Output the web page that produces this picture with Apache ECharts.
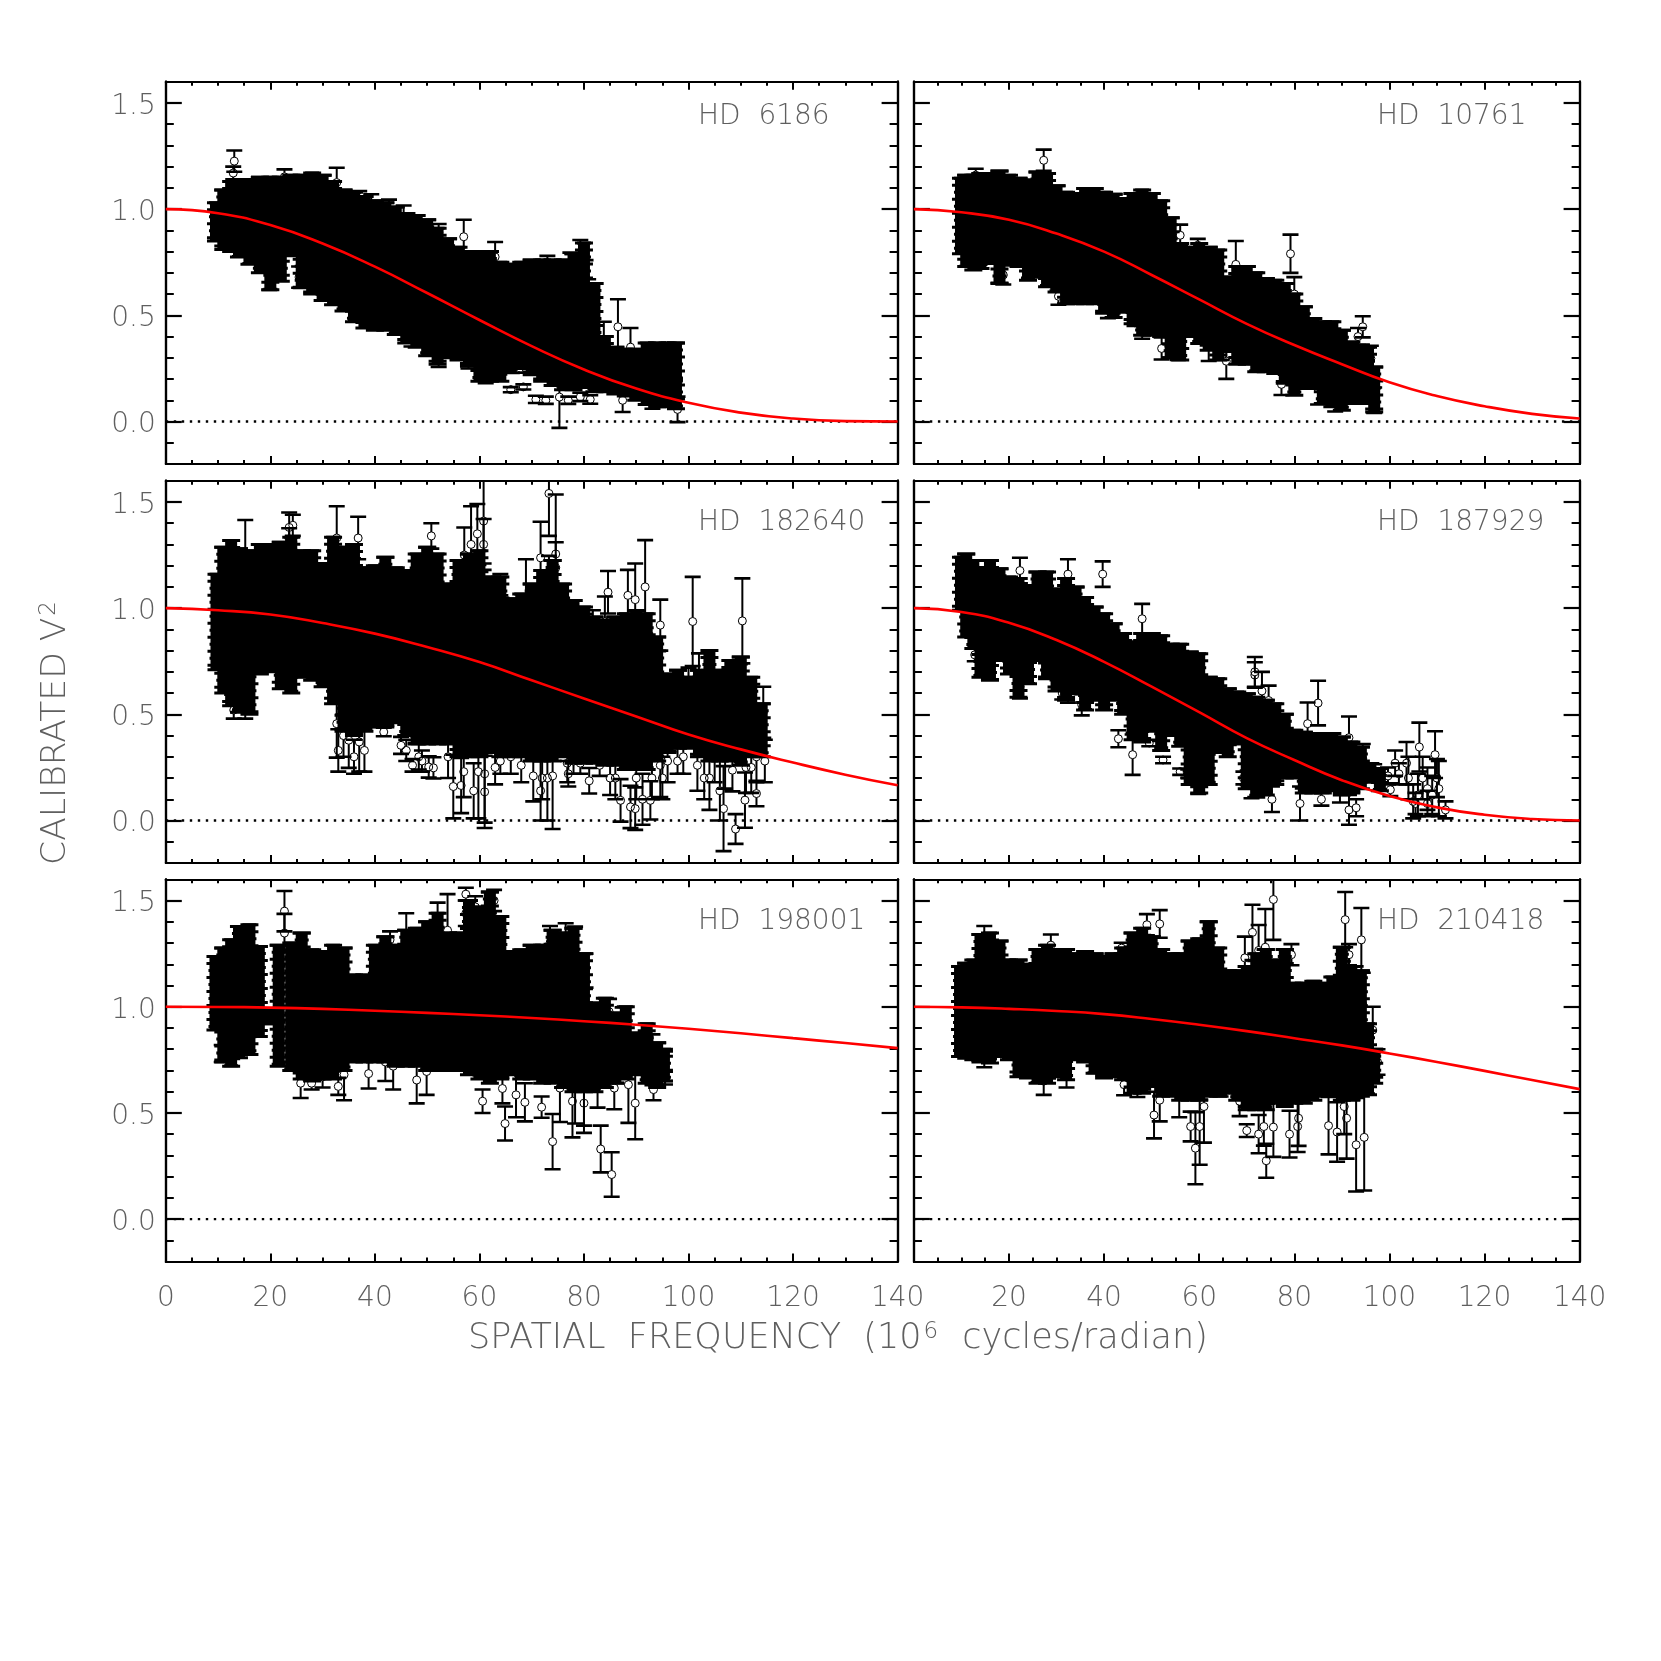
<!DOCTYPE html>
<html><head><meta charset="utf-8"><style>html,body{margin:0;background:#fff}#c{width:1661px;height:1661px}</style>
<script src="https://cdn.jsdelivr.net/npm/echarts@6/dist/echarts.min.js"></script></head>
<body><div id="c"></div>
<script>
const names = ['HD  6186','HD  10761','HD  182640','HD  187929','HD  198001','HD  210418'];
const xTicks = [0,20,40,60,80,100,120,140];
const yMajor = [0,0.5,1,1.5];
const fitX = [0,10,20,30,40,50,60,70,80,90,100,110,120,130,140];
const fit1 = [1,.981,.925,.838,.729,.605,.478,.355,.245,.155,.088,.042,.014,.002,0];
const fit2 = [1,.985,.95,.885,.80,.69,.575,.46,.36,.27,.185,.12,.072,.036,.014];
const fit3 = [1,.99,.97,.93,.88,.817,.746,.66,.575,.49,.405,.335,.273,.216,.166];
const fit4 = [1,.982,.931,.85,.747,.63,.51,.388,.285,.19,.115,.062,.027,.007,0];
const fit5 = [1,.999,.996,.99,.981,.971,.96,.947,.932,.915,.896,.875,.852,.829,.805];
const fit6 = [1,.997,.99,.98,.965,.942,.915,.885,.852,.818,.78,.74,.698,.655,.612];

const band1X = [9.6,11,12.5,14,16,18,20,22,24,26,28,30,32,34,36,38,40,42,44,46,48,50,52,54,56,58,60,62,64,66,68,70,72,74,76,78,80,82,84,86,88,90,92,94,96,97.6];
const band1Low = [.85,.81,.80,.775,.74,.70,.62,.66,.78,.63,.60,.57,.55,.52,.47,.44,.43,.43,.41,.37,.35,.31,.27,.30,.29,.26,.19,.19,.19,.23,.25,.22,.19,.17,.15,.15,.16,.14,.14,.13,.12,.10,.08,.07,.07,.06];
const band1High = [1.03,1.09,1.13,1.14,1.14,1.15,1.15,1.15,1.16,1.16,1.17,1.16,1.13,1.09,1.08,1.06,1.04,1.03,1.01,.98,.97,.95,.91,.86,.82,.80,.80,.80,.75,.74,.75,.76,.76,.76,.76,.79,.84,.65,.40,.35,.34,.34,.37,.37,.37,.37];
const pts1 = [[13.1,1.226,.05],[12.9,1.17,.03],[22.7,1.152,.035],[32.7,1.125,.07],[37,1.035,.05],[39.3,1.02,.05],[42.7,.995,.05],[45.5,.937,.08],[47.4,.90,.06],[52.2,.89,.04],[57,.87,.08],[63,.775,.07],[73,.72,.06],[77.4,.745,.05],[79.3,.775,.08],[80.3,.68,.08],[80.8,.60,.07],[86.5,.446,.13],[83.8,.36,.11],[88.9,.35,.09],[97.4,.28,.09],[97.4,.148,.05],[97.9,.057,.06],[75.3,.115,.145],[87.4,.10,.055],[66,.15,.012],[68.4,.163,.012],[70.8,.104,.017],[72.7,.10,.017],[77,.10,.017],[79.3,.116,.02],[81.2,.104,.02],[61.2,.20,.02],[52.2,.297,.04],[47,.383,.03],[57.9,.28,.03],[68.9,.25,.02],[25.5,.68,.05],[19.8,.68,.06],[93.1,.10,.04]];

const band2X = [9.9,11,12.5,14,16,18,20,22,24,26,28,30,32,34,36,38,40,42,44,46,48,50,52,54,56,58,60,62,64,66,68,70,72,74,76,78,80,82,84,86,88,90,92,94,95.5,96.8];
const band2Low = [.79,.73,.713,.72,.744,.65,.744,.73,.665,.68,.634,.61,.555,.555,.555,.555,.51,.49,.515,.46,.406,.406,.40,.30,.29,.40,.367,.335,.29,.33,.27,.27,.234,.234,.226,.18,.124,.155,.155,.085,.07,.053,.085,.09,.085,.045];
const band2High = [1.145,1.16,1.16,1.168,1.168,1.18,1.16,1.145,1.137,1.175,1.168,1.11,1.08,1.074,1.097,1.097,1.08,1.07,1.05,1.074,1.09,1.074,1.04,.96,.838,.82,.838,.82,.807,.68,.73,.73,.70,.673,.665,.65,.60,.54,.485,.47,.47,.43,.375,.36,.35,.257];
const pts2 = [[27.3,1.23,.05],[13,1.16,.03],[18.8,.69,.045],[30.4,.59,.04],[40.8,.537,.05],[46.4,.49,.04],[48,.42,.03],[52.1,.344,.052],[55.5,.36,.07],[56,.877,.05],[62,.375,.09],[65.7,.284,.083],[64.7,.34,.05],[67.7,.74,.11],[79.2,.79,.09],[77.3,.175,.05],[85,.155,.075],[88.6,.097,.05],[94.4,.446,.05],[96.1,.297,.06],[96.8,.10,.06],[94.7,.135,.05],[93.4,.40,.04],[59.7,.83,.03],[80,.60,.08]];

const band3X = [9.7,11,12.5,14,16,18,20,22,24,26,28,30,32,34,36,38,40,42,44,46,48,50,52,54,56,58,60,62,64,66,68,70,72,74,76,78,80,82,84,86,88,90,92,94,96,98,100,102,104,106,108,110,112,114];
const band3Low = [.71,.60,.54,.51,.50,.69,.70,.62,.60,.675,.66,.63,.55,.42,.40,.42,.44,.44,.46,.40,.36,.36,.36,.36,.30,.30,.30,.32,.30,.30,.30,.28,.28,.28,.30,.27,.27,.27,.26,.26,.24,.24,.24,.28,.32,.34,.34,.30,.28,.28,.28,.26,.30,.30];
const band3High = [1.16,1.287,1.318,1.28,1.27,1.30,1.30,1.31,1.334,1.27,1.27,1.21,1.334,1.287,1.30,1.19,1.20,1.24,1.19,1.177,1.255,1.287,1.255,1.114,1.224,1.255,1.27,1.146,1.146,1.044,1.067,1.114,1.177,1.224,1.114,1.036,1.005,.958,.942,.958,.973,.989,.973,.864,.69,.707,.675,.707,.80,.707,.754,.77,.675,.55];
const pts3 = [[55,.16,.15],[56.5,.165,.13],[57,.23,.12],[58.9,.14,.13],[59.8,.23,.22],[61,.22,.23],[61,.135,.17],[70.3,.21,.12],[71.7,.14,.14],[73,.2,.2],[74,.21,.25],[76.8,.27,.09],[81,.187,.06],[79.3,.27,.05],[87,.095,.10],[88.9,.064,.1],[89.8,.056,.1],[91.2,.10,.12],[92.7,.095,.09],[94.6,.26,.15],[97.9,.28,.06],[101.7,.26,.12],[106,.14,.14],[106.7,.056,.2],[109,-.04,.07],[110.8,.096,.13],[113,.127,.06],[114.6,.28,.1],[114.3,.51,.12],[32.7,.456,.16],[35,.378,.13],[37,.37,.14],[41.7,.417,.02],[45,.354,.04],[47.2,.26,.03],[50.3,.252,.05],[51.2,.248,.05],[52.4,.40,.03],[48.4,.30,.06],[102,.667,.12],[100,.58,.14],[108.4,.237,.1],[110.3,.94,.2],[100.8,.937,.21],[73.3,1.54,.2],[60.8,1.41,.2],[59.6,1.35,.14],[58.4,1.30,.18],[60.8,1.30,.12],[57.1,1.25,.13],[71.7,1.237,.17],[74.6,1.255,.28],[74.6,1.19,.12],[73.3,1.146,.1],[23.6,1.38,.07],[24.3,1.39,.05],[23.6,1.326,.05],[32.7,1.33,.15],[36.8,1.33,.10],[50.8,1.34,.06],[15.2,1.26,.155],[15.2,.575,.095],[13,.52,.04],[84.6,1.075,.1],[88.4,1.06,.12],[89.8,1.04,.17],[91.7,1.10,.22],[84,.935,.12],[94.6,.92,.12],[81.7,.92,.07],[68.9,1.05,.18],[64,1.11,.05],[33,.33,.1],[34,.4,.1],[36,.3,.08],[38,.33,.1],[46,.33,.05],[49,.28,.05],[54,.3,.1],[63,.25,.08],[64,.28,.06],[66,.3,.08],[68,.26,.08],[72,.2,.1],[77,.22,.06],[78,.28,.06],[83,.26,.05],[85,.2,.08],[86,.2,.1],[90,.2,.1],[93,.2,.1],[95,.2,.1],[96,.28,.1],[99,.3,.08],[103,.2,.1],[104,.2,.15],[105,.3,.12],[107,.3,.15],[111,.25,.12],[112,.25,.12],[113,.3,.12]];

const band4X = [9.9,11,12.5,14,16,18,20,22,24,26,28,30,32,34,36,38,40,42,44,46,48,50,52,54,56,58,60,62,64,66,68,70,72,74,76,78,80,82,84,86,88,90,92,94,96,98];
const band4Low = [.99,.864,.81,.675,.66,.754,.69,.58,.644,.754,.667,.61,.566,.597,.52,.566,.52,.566,.50,.38,.37,.42,.33,.40,.35,.17,.13,.17,.32,.30,.36,.15,.11,.12,.17,.20,.20,.13,.13,.13,.14,.12,.13,.15,.18,.14];
const band4High = [1.24,1.255,1.224,1.177,1.224,1.185,1.146,1.14,1.107,1.17,1.17,1.09,1.14,1.10,1.05,1.005,.973,.926,.88,.84,.88,.88,.87,.83,.83,.793,.785,.675,.667,.62,.605,.597,.58,.566,.55,.50,.425,.416,.41,.41,.41,.393,.37,.346,.268,.245];
const pts4 = [[22.3,1.177,.06],[22.3,.63,.055],[32.4,1.16,.07],[39.7,1.16,.06],[48,.95,.07],[46,.31,.095],[35.3,.545,.05],[31.2,.6,.03],[32.4,.605,.05],[71.7,.70,.07],[71.7,.685,.06],[73.2,.61,.09],[74.6,.565,.07],[85,.553,.105],[82.8,.456,.10],[91.5,.39,.1],[94.4,.29,.07],[106.3,.346,.115],[109.6,.31,.11],[110.4,.15,.13],[111.8,.05,.04],[81.2,.08,.08],[75.3,.10,.06],[59.8,.165,.04],[91.5,.05,.07],[93,.06,.04],[103.6,.27,.1],[101.2,.27,.06],[99.7,.21,.04],[96.8,.235,.03],[100.2,.145,.03],[71,.165,.06],[69.3,.2,.03],[56,.23,.015],[57.7,.22,.02],[49.5,.365,.015],[52.4,.285,.015],[43,.385,.04],[14.3,.745,.06],[12.8,.78,.03],[105.5,.08,.05],[108,.08,.06],[85.7,.10,.03],[89.6,.135,.05],[102,.22,.05],[104,.2,.1],[106,.12,.1],[107,.2,.1],[108,.15,.1],[109,.12,.09],[105,.09,.08],[110,.2,.09]];

const band5X = [9.5,11,12.5,14,16,17.8,19.6,21.6,24,26,28,30,32,34,36,38,40,42,44,46,48,50,52,54,56,58,60,62,64,66,68,70,72,74,76,78,80,82,84,86,88,90,92,94,95.3];
const band5Low = [.89,.74,.72,.76,.775,.86,.92,.72,.70,.66,.65,.66,.66,.70,.74,.74,.74,.74,.72,.72,.72,.70,.70,.70,.70,.68,.66,.64,.66,.68,.66,.66,.64,.64,.62,.60,.60,.60,.62,.64,.66,.68,.64,.62,.65];
const band5High = [1.237,1.276,1.315,1.378,1.386,1.284,.986,1.29,1.30,1.347,1.268,1.26,1.29,1.276,1.15,1.15,1.29,1.33,1.29,1.36,1.37,1.40,1.44,1.347,1.347,1.50,1.47,1.54,1.425,1.26,1.268,1.29,1.29,1.36,1.347,1.37,1.25,1.017,1.04,.97,1.00,.876,.92,.83,.80];
const pts5 = [[22.7,1.45,.095],[22.7,1.347,.09],[10.7,.78,.04],[57.4,1.53,.03],[57.4,1.44,.06],[62.8,1.50,.05],[59.2,1.47,.05],[42.9,1.315,.04],[52,1.41,.08],[53.9,1.36,.17],[46,1.33,.11],[73.5,1.30,.08],[76.5,1.323,.07],[78.3,1.307,.07],[80.3,1.17,.08],[84.8,.977,.06],[87.4,.947,.05],[25.8,.64,.07],[33,.625,.04],[34.1,.68,.12],[38.8,.685,.07],[42,.74,.09],[43.5,.72,.11],[48,.655,.11],[49.9,.695,.11],[60.6,.555,.055],[64.4,.615,.07],[64.9,.45,.08],[67,.585,.105],[71.9,.527,.05],[74,.365,.13],[75.4,.617,.16],[77.8,.555,.17],[78.3,.70,.25],[80,.64,.2],[83.2,.33,.11],[85.3,.21,.105],[85.8,.617,.1],[88.5,.633,.18],[89.8,.546,.17],[80,.546,.14],[95.5,.664,.03],[95.5,.72,.07],[93.1,.75,.12],[93.3,.61,.05],[30,.67,.05],[27.9,.64,.03],[68.7,.55,.09],[82.6,.625,.1]];

const band6X = [9.7,11,12.5,14,16,18,20,22,24,26,28,30,32,34,36,38,40,42,44,46,48,50,52,54,56,58,60,62,64,66,68,70,72,74,76,78,80,82,84,86,88,90,92,94,95.5,96.8];
const band6Low = [.766,.758,.75,.74,.735,.766,.75,.67,.664,.64,.64,.67,.656,.75,.74,.687,.664,.67,.656,.593,.593,.625,.578,.578,.56,.56,.56,.578,.578,.593,.56,.515,.515,.515,.546,.53,.546,.546,.56,.578,.578,.56,.56,.578,.585,.64];
const band6High = [1.19,1.205,1.22,1.34,1.347,1.31,1.22,1.22,1.20,1.27,1.29,1.27,1.27,1.25,1.26,1.25,1.237,1.25,1.276,1.347,1.37,1.33,1.27,1.25,1.25,1.31,1.32,1.40,1.276,1.17,1.17,1.19,1.25,1.27,1.22,1.27,1.11,1.11,1.12,1.11,1.14,1.28,1.19,1.17,.92,.80];
const pts6 = [[50.5,.49,.11],[51.7,.56,.1],[55.8,.58,.1],[58.2,.436,.07],[59.2,.334,.17],[60.1,.436,.18],[61,.53,.17],[68.5,.555,.07],[70,.417,.03],[72.5,.40,.09],[74.1,.275,.08],[75.6,.433,.14],[73.6,.436,.09],[79,.40,.11],[80.9,.475,.13],[80.7,.436,.12],[87.2,.44,.135],[89,.41,.14],[91,.475,.19],[93,.35,.22],[94.7,.385,.25],[90.5,.53,.13],[75.6,1.505,.19],[71.2,1.35,.13],[72.5,1.265,.12],[73.9,1.28,.18],[69.6,1.23,.1],[79.4,1.245,.05],[90.7,1.41,.13],[94.1,1.315,.15],[91.5,1.245,.05],[92.9,1.11,.08],[94.4,1.01,.15],[96.5,.89,.11],[97.5,.74,.06],[49,1.386,.05],[51.7,1.39,.065],[43.7,1.276,.025],[14.8,1.33,.05],[28.8,1.29,.05],[27.3,.65,.065],[32.1,.72,.1],[14.8,.77,.055],[62,1.32,.08],[64.5,.617,.04],[44.2,.633,.05],[47,.625,.05]];

const fits = [fit1,fit2,fit3,fit4,fit5,fit6];
const bands = [[band1X,band1Low,band1High],[band2X,band2Low,band2High],[band3X,band3Low,band3High],[band4X,band4Low,band4High],[band5X,band5Low,band5High],[band6X,band6Low,band6High]];
const pts = [pts1,pts2,pts3,pts4,pts5,pts6];

const INK='#000', TXT='#5f5f5f', FONT='"DejaVu Sans", sans-serif', WEIGHT=200;
const colL=[165.8,913.9], colW=[731.8,665.7], rowT=[81.7,480.7,879.3], rowH=382.3;
const grid=[],xAxis=[],yAxis=[],series=[],graphic=[];

function bandItem(p,api){
  const x=api.value(0),lo=api.coord([x,api.value(1)]),hi=api.coord([x,api.value(2)]);
  const children=[{type:'rect',shape:{x:lo[0]-6,y:hi[1],width:12,height:lo[1]-hi[1]},style:{fill:INK}}];
  // caps stacked down the column give the mass its jagged error-bar edge
  let n=0;
  for(let y=hi[1];y<lo[1];y+=7,n++){
    const w=(n+p.dataIndex)%2?9:7;
    children.push({type:'line',shape:{x1:lo[0]-w,y1:y,x2:lo[0]+w,y2:y},style:{stroke:INK,lineWidth:3}});
  }
  children.push({type:'line',shape:{x1:lo[0]-9,y1:lo[1],x2:lo[0]+9,y2:lo[1]},style:{stroke:INK,lineWidth:3}});
  children.push({type:'line',shape:{x1:lo[0]-9,y1:hi[1],x2:lo[0]+9,y2:hi[1]},style:{stroke:INK,lineWidth:3}});
  return {type:'group',children};
}
function pointItem(p,api){
  const x=api.value(0),y=api.value(1),e=api.value(2);
  const c=api.coord([x,y]),lo=api.coord([x,y-e]),hi=api.coord([x,y+e]);
  const cap=(pt)=>({type:'line',shape:{x1:pt[0]-8,y1:pt[1],x2:pt[0]+8,y2:pt[1]},style:{stroke:INK,lineWidth:2.6}});
  return {type:'group',children:[
    {type:'line',shape:{x1:c[0],y1:hi[1],x2:c[0],y2:c[1]-4},style:{stroke:INK,lineWidth:2}},
    {type:'line',shape:{x1:c[0],y1:c[1]+4,x2:c[0],y2:lo[1]},style:{stroke:INK,lineWidth:2}},
    cap(lo),cap(hi),
    {type:'circle',shape:{cx:c[0],cy:c[1],r:4},style:{fill:'none',stroke:INK,lineWidth:1}}]};
}

names.forEach((nm,i)=>{
  const col=i%2,row=Math.floor(i/2),bottom=row===2,left=col===0;
  grid.push({left:colL[col],top:rowT[row],width:colW[col],height:rowH,show:false});
  const line={show:true,onZero:false,lineStyle:{color:INK,width:2.2}};
  const xTick={show:true,inside:true,length:8,lineStyle:{color:INK,width:2}};
  const xMinor={show:true,splitNumber:4,length:4,lineStyle:{color:INK,width:2}};
  const xi=xAxis.length;
  xAxis.push({gridIndex:i,type:'value',position:'bottom',min:0,max:140,interval:20,axisLine:line,axisTick:xTick,minorTick:xMinor,splitLine:{show:false},
    axisLabel:{show:bottom,margin:23,fontFamily:FONT,fontWeight:WEIGHT,fontSize:28,color:TXT,showMaxLabel:true,showMinLabel:true,hideOverlap:false,
      customValues:left?xTicks:xTicks.slice(1)}});
  xAxis.push({gridIndex:i,type:'value',position:'top',min:0,max:140,interval:20,axisLine:line,axisTick:xTick,minorTick:xMinor,splitLine:{show:false},axisLabel:{show:false}});
  const yi=yAxis.length;
  const yBase={gridIndex:i,type:'value',min:-0.2,max:1.6,interval:0.1,splitLine:{show:false},axisLine:line};
  const minorT={show:true,inside:true,length:8,lineStyle:{color:INK,width:2}};
  const majorT={show:true,inside:true,length:16,lineStyle:{color:INK,width:2.2},customValues:yMajor};
  yAxis.push({...yBase,position:'left',axisTick:minorT,axisLabel:{show:false}});
  yAxis.push({...yBase,position:'right',axisTick:minorT,axisLabel:{show:false}});
  yAxis.push({...yBase,position:'left',axisTick:majorT,
    axisLabel:{show:left,margin:10,customValues:yMajor,formatter:v=>'{a|'+v.toFixed(1)+'}',
      rich:{a:{fontFamily:FONT,fontWeight:WEIGHT,fontSize:28,color:TXT,padding:[7,0,0,0]}}}});
  yAxis.push({...yBase,position:'right',axisTick:majorT,axisLabel:{show:false}});

  const [bx,bl,bh]=bands[i];
  series.push({type:'line',xAxisIndex:xi,yAxisIndex:yi,data:[[0,0],[140,0]],symbol:'none',silent:true,z:1,lineStyle:{color:INK,width:2.4,type:[2.4,5.6]}});
  series.push({type:'custom',xAxisIndex:xi,yAxisIndex:yi,clip:true,silent:true,z:2,renderItem:bandItem,encode:{x:0,y:[1,2]},data:bx.map((x,k)=>[x,bl[k],bh[k]])});
  series.push({type:'custom',xAxisIndex:xi,yAxisIndex:yi,clip:true,silent:true,z:3,renderItem:pointItem,encode:{x:0,y:1},data:pts[i]});
  series.push({type:'line',xAxisIndex:xi,yAxisIndex:yi,data:fitX.map((x,k)=>[x,fits[i][k]]),smooth:0.5,symbol:'none',silent:true,z:4,lineStyle:{color:'#ff0000',width:2.6}});

  graphic.push({type:'text',left:[698,1377][col],top:[120,526,925][row]-17,z:10,silent:true,
    style:{text:nm,fontFamily:FONT,fontWeight:WEIGHT,fontSize:28,fill:TXT}});
});

const rich=(sz)=>({n:{fontFamily:FONT,fontWeight:WEIGHT,fontSize:sz,fill:TXT},s:{fontFamily:FONT,fontWeight:WEIGHT,fontSize:23,fill:TXT,verticalAlign:'top',padding:[0,2,14,2]}});
graphic.push({type:'text',x:838,y:1339,z:10,silent:true,style:{text:'{n|SPATIAL  FREQUENCY  (10}{s|6}{n|  cycles/radian)}',rich:rich(35),align:'center',verticalAlign:'middle'}});
graphic.push({type:'text',x:56,y:732,rotation:Math.PI/2,z:10,silent:true,style:{text:'{n|CALIBRATED V}{s|2}',rich:rich(34.5),align:'center',verticalAlign:'middle'}});

const chart=echarts.init(document.getElementById('c'),null,{renderer:'canvas'});
chart.setOption({animation:false,backgroundColor:'#fff',grid,xAxis,yAxis,series,graphic});
</script></body></html>
